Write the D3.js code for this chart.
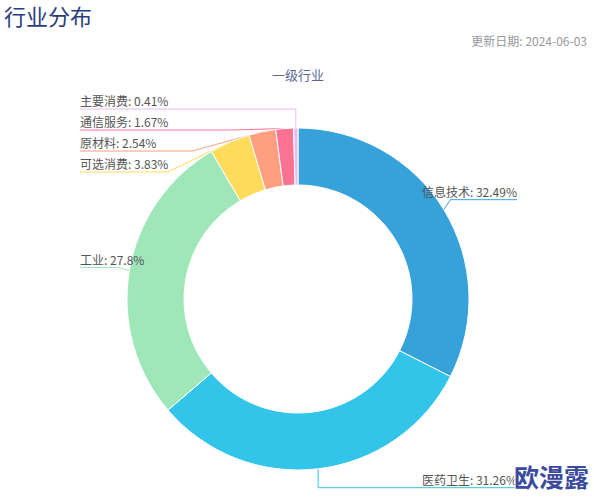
<!DOCTYPE html>
<html>
<head>
<meta charset="utf-8">
<script src="https://cdn.jsdelivr.net/npm/d3@7/dist/d3.min.js"></script>
<style>
  html, body { margin: 0; padding: 0; background: #fff; }
  svg { display: block; font-family: "Noto Sans CJK SC", "Microsoft YaHei", sans-serif; }
</style>
</head>
<body>
<div id="chart"></div>
<script>
const categories = ["信息技术", "医药卫生", "工业", "可选消费", "原材料", "通信服务", "主要消费"];
const values = [32.49, 31.26, 27.8, 3.83, 2.54, 1.67, 0.41];
const colors = ["#37A2DA", "#32C5E9", "#9FE6B8", "#FFDB5C", "#ff9f7f", "#fb7293", "#e7bcf3"];
const titleText = "行业分布";
const subtitleText = "一级行业";
const updateText = "更新日期: 2024-06-03";
const watermarkText = "欧漫露";

const W = 594, H = 498;
const cx = 298, cy = 299, rOuter = 171, rInner = 114;
const lineR = 190, bendR = 182;
const leftEdge = 80, rightEdge = 517, gap = 21;

const svg = d3.select("#chart").append("svg").attr("width", W).attr("height", H);

svg.append("text").attr("x", 4).attr("y", 25)
  .attr("font-size", 22).attr("fill", "#2c3e7e").text(titleText);
svg.append("text").attr("x", 587).attr("y", 46).attr("text-anchor", "end")
  .attr("font-size", 12).attr("fill", "#999").text(updateText);
svg.append("text").attr("x", cx).attr("y", 80).attr("text-anchor", "middle")
  .attr("font-size", 13).attr("fill", "#5b6796").text(subtitleText);

const data = categories.map((c, i) => ({ name: c, value: values[i], color: colors[i] }));
const pie = d3.pie().sort(null).value(d => d.value);
const arcs = pie(data);
const arc = d3.arc().innerRadius(rInner).outerRadius(rOuter);

// label layout
const items = arcs.map(a => {
  const mid = (a.startAngle + a.endAngle) / 2;
  const dx = Math.sin(mid), dy = -Math.cos(mid);
  return {
    a, mid, dx, dy,
    p0: [cx + rOuter * dx, cy + rOuter * dy],
    idealY: cy + lineR * dy,
    side: dx < 0 ? "left" : "right"
  };
});
["left", "right"].forEach(side => {
  const group = items.filter(d => d.side === side).sort((a, b) => a.idealY - b.idealY);
  let prev = -Infinity;
  group.forEach(d => { d.y = Math.max(d.idealY, prev + gap); prev = d.y; });
});
items.forEach(d => {
  const ddy = d.y - cy;
  let bx;
  if (Math.abs(ddy) >= bendR) bx = d.p0[0];
  else {
    const off = Math.sqrt(bendR * bendR - ddy * ddy);
    bx = d.side === "left" ? cx - off : cx + off;
    if (d.side === "left") bx = Math.min(bx, d.p0[0]); else bx = Math.max(bx, d.p0[0]);
  }
  d.bend = [bx, d.y];
  d.end = [d.side === "left" ? leftEdge : rightEdge, d.y];
});

// lines under the pie
svg.append("g").selectAll("polyline").data(items).join("polyline")
  .attr("points", d => [d.p0, d.bend, d.end].map(p => p.join(",")).join(" "))
  .attr("fill", "none").attr("stroke", d => d.a.data.color).attr("stroke-width", 1);

svg.append("g").attr("transform", `translate(${cx},${cy})`)
  .selectAll("path").data(arcs).join("path")
  .attr("d", arc).attr("fill", d => d.data.color)
  .attr("stroke", "#fff").attr("stroke-width", 1);

svg.append("g").selectAll("text").data(items).join("text")
  .attr("x", d => d.side === "left" ? leftEdge : rightEdge)
  .attr("y", d => d.y - 3)
  .attr("text-anchor", d => d.side === "left" ? "start" : "end")
  .attr("font-size", 12).attr("fill", "#555")
  .text(d => `${d.a.data.name}: ${d.a.data.value}%`);

svg.append("text").attr("x", 589).attr("y", 487).attr("text-anchor", "end")
  .attr("font-size", 25).attr("font-weight", "bold").attr("fill", "#3b4a9e")
  .attr("stroke", "#fff").attr("stroke-width", 2).attr("paint-order", "stroke")
  .text(watermarkText);
</script>
</body>
</html>
